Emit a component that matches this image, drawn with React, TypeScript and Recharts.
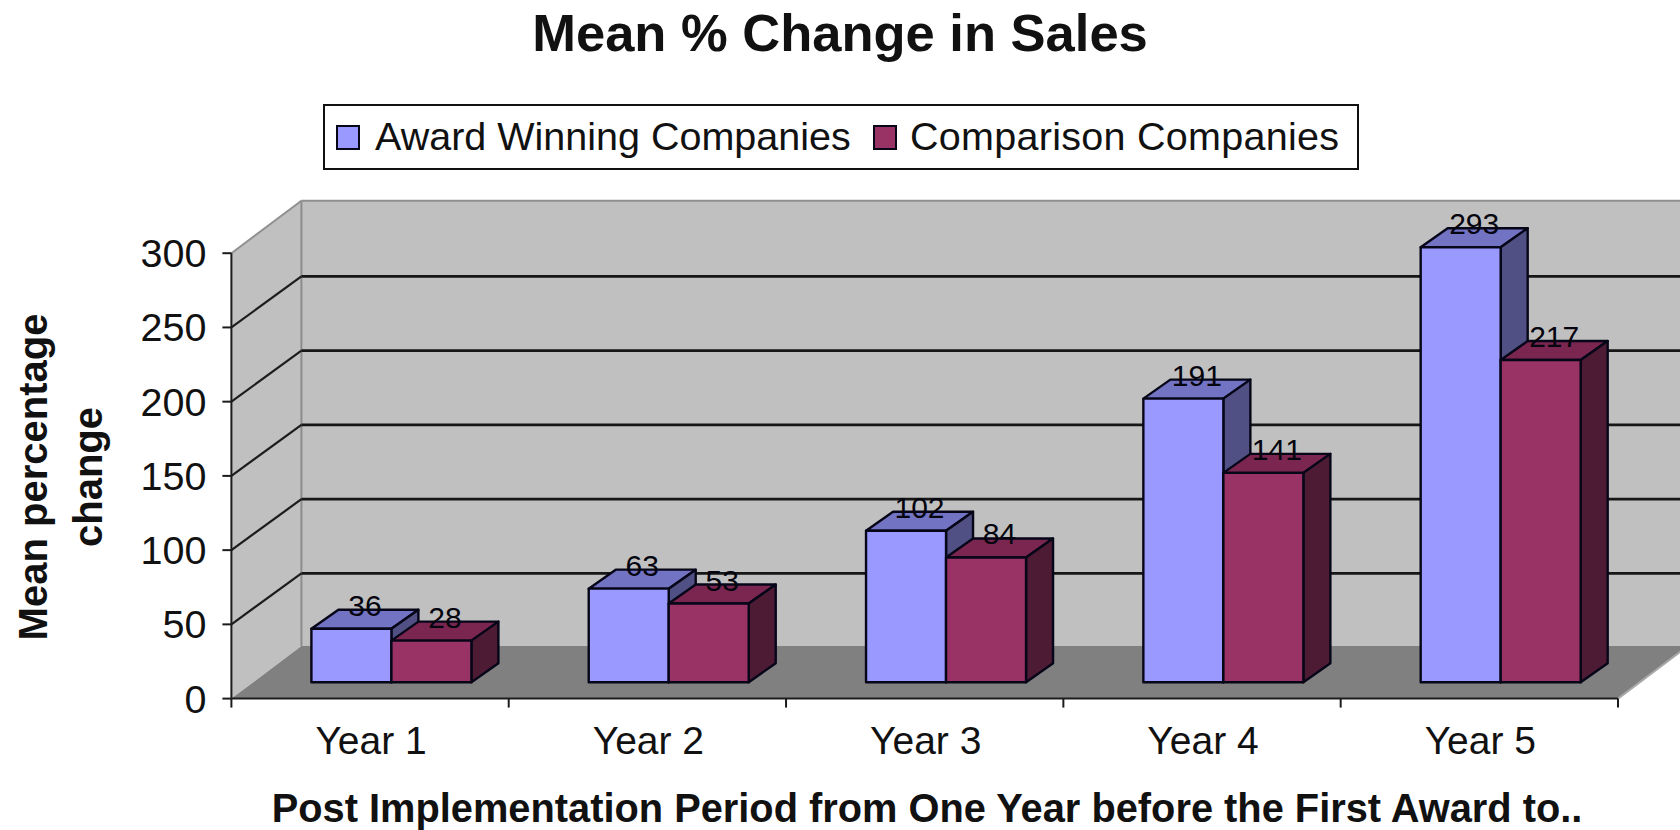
import React from "react";
import { BarChart, Bar, XAxis, YAxis, CartesianGrid, Legend, LabelList } from "recharts";

const categories = ["Year 1", "Year 2", "Year 3", "Year 4", "Year 5"];
const awardWinning = [36, 63, 102, 191, 293];
const comparison = [28, 53, 84, 141, 217];
const yTicks = [0, 50, 100, 150, 200, 250, 300];
const titleText = "Mean % Change in Sales";
const xTitle = "Post Implementation Period from One Year before the First Award to..";
const yTitleLines = ["Mean percentage", "change"];
const seriesNames = ["Award Winning Companies", "Comparison Companies"];

const data = categories.map((c, i) => ({ name: c, award: awardWinning[i], comp: comparison[i] }));

const FONT = "'Liberation Sans', Arial, sans-serif";
const W = 1680;
const H = 830;
const PL = 231.4; // plot left
const PR = 1618;
const PT = 253.2;
const PB = 698.6;
const BAND = (PR - PL) / categories.length;
// wall depth
const WX = 70;
const WY = 52.5;
const GRID_WY = 51;
// bar placement in depth
const DX = 21;
const DY = 16.4;
const BX = 27;
const BY = 19;

const AWARD = { front: "#9999FF", top: "#7373C4", side: "#505084" };
const COMP = { front: "#993366", top: "#7A2650", side: "#4E1B34" };
const EDGE = "#060618";

const Walls = () => (
  <g>
    <polygon
      points={`${PL},${PT} ${PL + WX},${PT - WY} ${PL + WX},${PB - WY} ${PL},${PB}`}
      fill="#C0C0C0"
    />
    <rect x={PL + WX} y={PT - WY} width={PR - PL} height={PB - PT} fill="#C0C0C0" />
    <polygon
      points={`${PL},${PB} ${PR},${PB} ${PR + WX},${PB - WY} ${PL + WX},${PB - WY}`}
      fill="#808080"
    />
    <line x1={PL + WX} y1={PT - WY} x2={PR + WX} y2={PT - WY} stroke="#909090" strokeWidth={2} />
    <line x1={PL} y1={PT} x2={PL + WX} y2={PT - WY} stroke="#909090" strokeWidth={2} />
    <line x1={PL + WX} y1={PT - WY} x2={PL + WX} y2={PB - WY} stroke="#8C8C8C" strokeWidth={2} />
    <line x1={PR} y1={PB} x2={PR + WX} y2={PB - WY} stroke="#A8A8A8" strokeWidth={2} />
  </g>
);

const GridLine = (p: any) => {
  const y = p.y1;
  if (Math.abs(y - PB) < 1 || Math.abs(y - PT) < 1) return <g key={p.key} />;
  return (
    <g key={p.key}>
      <line x1={PL + WX} y1={y - GRID_WY} x2={PR + WX} y2={y - GRID_WY} stroke="#161616" strokeWidth={2.8} />
      <line x1={PL} y1={y} x2={PL + WX} y2={y - GRID_WY} stroke="#1c1c1c" strokeWidth={2.2} />
    </g>
  );
};

const makeBar = (c: { front: string; top: string; side: string }) => (p: any) => {
  const x = p.x + DX;
  const y = p.y - DY;
  const w = p.width;
  const h = p.height;
  const stroke = { stroke: EDGE, strokeWidth: 2.4, strokeLinejoin: "round" as const };
  return (
    <g>
      <polygon points={`${x},${y} ${x + BX},${y - BY} ${x + w + BX},${y - BY} ${x + w},${y}`} fill={c.top} {...stroke} />
      <polygon points={`${x + w},${y} ${x + w + BX},${y - BY} ${x + w + BX},${y + h - BY} ${x + w},${y + h}`} fill={c.side} {...stroke} />
      <rect x={x} y={y} width={w} height={h} fill={c.front} {...stroke} />
    </g>
  );
};

const BarLabel = (p: any) => (
  <text
    x={p.x + p.width / 2 + DX + 13.5}
    y={p.y - DY - 13}
    textAnchor="middle"
    fontFamily={FONT}
    fontSize={30}
    fill="#05050f"
  >
    {p.value}
  </text>
);

const XTick = (p: any) => {
  const { x, payload, index } = p;
  const left = x - BAND / 2;
  const isLast = index === categories.length - 1;
  return (
    <g>
      <line x1={left} y1={PB} x2={left} y2={PB + 9} stroke="#1c1c1c" strokeWidth={2} />
      {isLast && <line x1={left + BAND} y1={PB} x2={left + BAND} y2={PB + 9} stroke="#1c1c1c" strokeWidth={2} />}
      <text x={x + 1} y={754} textAnchor="middle" fontFamily={FONT} fontSize={39} fill="#111">
        {payload.value}
      </text>
    </g>
  );
};

const LegendBox = ({ payload }: any) => (
  <div
    style={{
      boxSizing: "border-box",
      width: "100%",
      height: "100%",
      border: "2px solid #111",
      background: "#fff",
      position: "relative",
      fontFamily: FONT,
      fontSize: 39.5,
      color: "#111",
    }}
  >
    {(payload || []).map((e: any, i: number) => (
      <React.Fragment key={e.value}>
        <span
          style={{
            position: "absolute",
            left: i === 0 ? 11 : 548,
            top: 19,
            width: 24,
            height: 25,
            boxSizing: "border-box",
            background: e.color,
            border: `2px solid ${EDGE}`,
          }}
        />
        <span
          style={{
            position: "absolute",
            left: i === 0 ? 50 : 585,
            top: 5,
            lineHeight: "50px",
            whiteSpace: "nowrap",
            letterSpacing: i === 0 ? 0 : 0.28,
          }}
        >
          {e.value}
        </span>
      </React.Fragment>
    ))}
  </div>
);

const Titles = () => (
  <g fontFamily={FONT} fontWeight="bold" fill="#111">
    <text x={840} y={51} textAnchor="middle" fontSize={52.5}>
      {titleText}
    </text>
    <text x={927} y={822} textAnchor="middle" fontSize={39.8}>
      {xTitle}
    </text>
    {yTitleLines.map((t, i) => (
      <text
        key={t}
        textAnchor="middle"
        fontSize={40}
        transform={`translate(${47 + i * 55},477) rotate(-90)`}
      >
        {t}
      </text>
    ))}
  </g>
);

export default function App() {
  return (
    <div style={{ position: "absolute", left: 0, top: 0, width: W, height: H, overflow: "hidden", background: "#fff" }}>
      <BarChart
        width={W}
        height={H}
        data={data}
        barSize={80}
        barGap={0}
        margin={{ top: PT, right: W - PR, bottom: 71.4, left: 0 }}
      >
        <Walls />
        <CartesianGrid vertical={false} horizontal={GridLine} {...({ zIndex: 100 } as any)} />
        <XAxis
          dataKey="name"
          height={60}
          interval={0}
          tickLine={false}
          axisLine={{ stroke: "#1c1c1c", strokeWidth: 2 }}
          tick={XTick}
        />
        <YAxis
          width={PL}
          domain={[0, 300]}
          ticks={yTicks}
          interval={0}
          tickSize={9}
          tickMargin={16}
          tickLine={{ stroke: "#1c1c1c", strokeWidth: 2 }}
          axisLine={{ stroke: "#1c1c1c", strokeWidth: 2 }}
          tick={{ fontFamily: FONT, fontSize: 39.5, fill: "#111" }}
        />
        <Legend
          layout="horizontal"
          align="center"
          verticalAlign="middle"
          content={LegendBox}
          wrapperStyle={{ left: 323, top: 104, width: 1036, height: 66, bottom: "auto" }}
        />
        <Bar dataKey="award" name={seriesNames[0]} fill={AWARD.front} shape={makeBar(AWARD)} isAnimationActive={false}>
          <LabelList dataKey="award" content={BarLabel} />
        </Bar>
        <Bar dataKey="comp" name={seriesNames[1]} fill={COMP.front} shape={makeBar(COMP)} isAnimationActive={false}>
          <LabelList dataKey="comp" content={BarLabel} />
        </Bar>
        <Titles />
      </BarChart>
    </div>
  );
}
